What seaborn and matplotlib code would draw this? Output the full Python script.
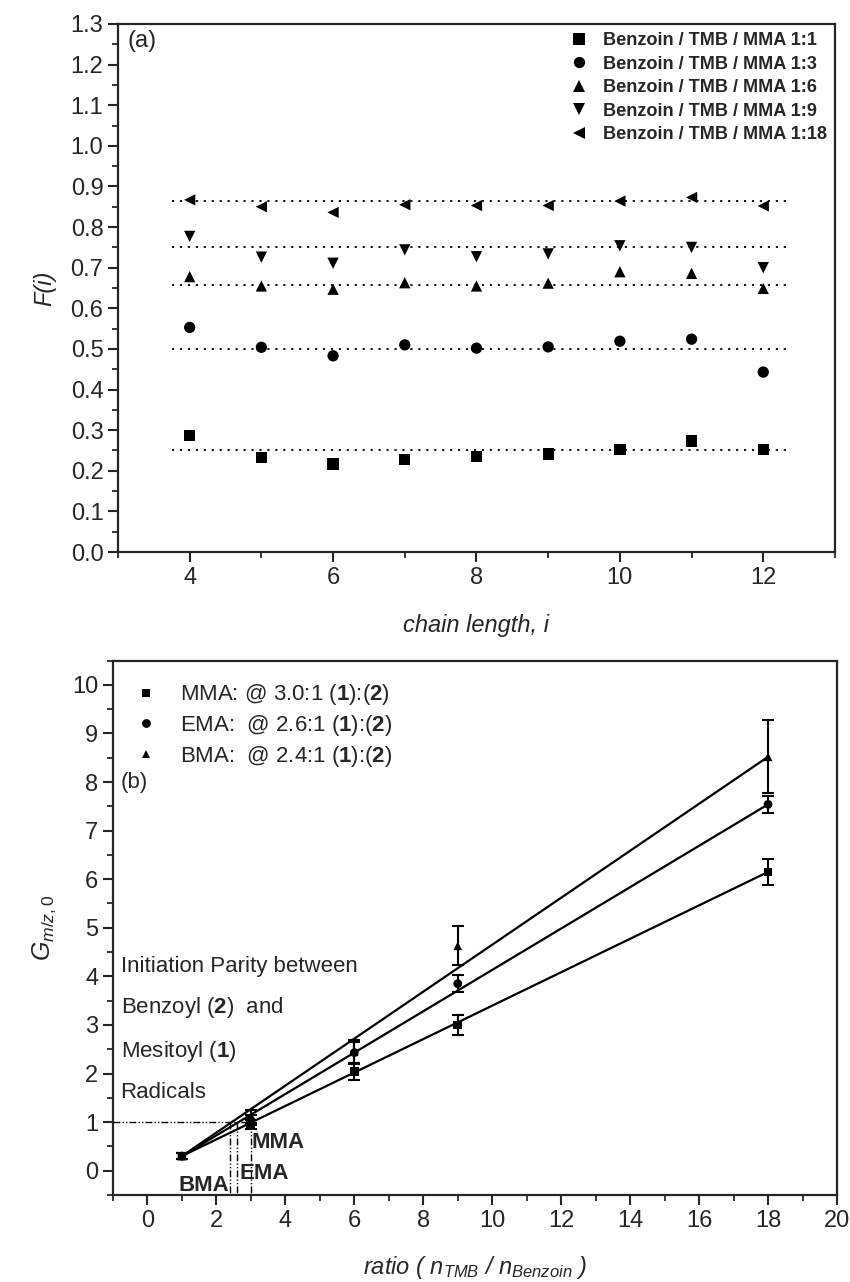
import numpy as np
import pandas as pd
import seaborn as sns
import matplotlib.pyplot as plt
from matplotlib.ticker import MultipleLocator, FormatStrFormatter

# ---- panel (a): F(i) vs chain length ----
chain_length = [4, 5, 6, 7, 8, 9, 10, 11, 12]
series_a = ["Benzoin / TMB / MMA 1:1", "Benzoin / TMB / MMA 1:3",
            "Benzoin / TMB / MMA 1:6", "Benzoin / TMB / MMA 1:9",
            "Benzoin / TMB / MMA 1:18"]
f_1_1 = [0.286, 0.232, 0.217, 0.228, 0.235, 0.241, 0.253, 0.273, 0.253]
f_1_3 = [0.553, 0.504, 0.483, 0.510, 0.502, 0.505, 0.519, 0.524, 0.443]
f_1_6 = [0.678, 0.655, 0.647, 0.663, 0.655, 0.662, 0.690, 0.686, 0.649]
f_1_9 = [0.777, 0.726, 0.711, 0.744, 0.727, 0.734, 0.754, 0.750, 0.700]
f_1_18 = [0.867, 0.850, 0.836, 0.855, 0.853, 0.853, 0.864, 0.873, 0.852]
f_levels = [0.252, 0.500, 0.658, 0.750, 0.864]
markers_a = ["s", "o", "^", "v", "<"]

# ---- panel (b): G vs ratio ----
ratio = [1, 3, 6, 9, 18]
g_mma = [0.30, 0.95, 2.04, 3.00, 6.15]
g_mma_err = [0.07, 0.10, 0.17, 0.21, 0.26]
g_ema = [0.30, 1.04, 2.43, 3.85, 7.54]
g_ema_err = [0.06, 0.10, 0.22, 0.18, 0.18]
g_bma = [0.30, 1.12, 2.45, 4.63, 8.52]
g_bma_err = [0.06, 0.13, 0.25, 0.40, 0.75]
series_b = ["MMA: @ 3.0:1 ($\\mathbf{1}$):($\\mathbf{2}$)",
            "EMA:  @ 2.6:1 ($\\mathbf{1}$):($\\mathbf{2}$)",
            "BMA:  @ 2.4:1 ($\\mathbf{1}$):($\\mathbf{2}$)"]
parity_names = ["MMA", "EMA", "BMA"]
parity_ratio = [3.0, 2.6, 2.4]
markers_b = ["s", "o", "^"]

sns.set_style("ticks")
plt.rcParams["font.family"] = ["Liberation Sans", "DejaVu Sans"]
plt.rcParams["mathtext.fontset"] = "custom"
plt.rcParams["mathtext.rm"] = "Liberation Sans"
plt.rcParams["mathtext.it"] = "Liberation Sans:italic"
plt.rcParams["mathtext.bf"] = "Liberation Sans:bold"
plt.rcParams["axes.linewidth"] = 1.6

fig = plt.figure(figsize=(8.5, 12.82), dpi=100)
ax1 = fig.add_axes([0.1388, 0.5694, 0.8435, 0.4119])
ax2 = fig.add_axes([0.1329, 0.0679, 0.8518, 0.4168])

# panel (a)
df_a = pd.DataFrame({
    "chain": chain_length * 5,
    "F": f_1_1 + f_1_3 + f_1_6 + f_1_9 + f_1_18,
    "series": np.repeat(series_a, len(chain_length)),
})
ax1.hlines(f_levels, 3.75, 12.35, colors="black", linestyles=(0, (1.2, 3.2)), lw=1.3)
sns.scatterplot(data=df_a, x="chain", y="F", hue="series", style="series",
                palette=["black"] * 5, markers=markers_a, s=66,
                linewidth=0, ax=ax1)
h, l = ax1.get_legend_handles_labels()
ax1.legend(h, l, loc="upper right", bbox_to_anchor=(1.0, 1.0), frameon=False,
           prop={"weight": "bold", "size": 13.1}, labelspacing=0.36,
           handletextpad=0.3, borderaxespad=0.25, borderpad=0.2)
ax1.set_xlim(3, 13)
ax1.set_ylim(0, 1.3)
ax1.xaxis.set_major_locator(MultipleLocator(2))
ax1.xaxis.set_minor_locator(MultipleLocator(1))
ax1.yaxis.set_major_locator(MultipleLocator(0.1))
ax1.yaxis.set_minor_locator(MultipleLocator(0.05))
ax1.yaxis.set_major_formatter(FormatStrFormatter("%.1f"))
ax1.set_xlabel("chain length, i", fontstyle="italic", fontsize=17, labelpad=18)
ax1.set_ylabel("F(i)", fontstyle="italic", fontsize=17, labelpad=10)
ax1.text(0.013, 0.988, "(a)", transform=ax1.transAxes, fontsize=17, va="top")

# panel (b)
df_b = pd.DataFrame({
    "ratio": ratio * 3,
    "G": g_mma + g_ema + g_bma,
    "series": np.repeat(series_b, len(ratio)),
})
for y, err in [(g_mma, g_mma_err), (g_ema, g_ema_err), (g_bma, g_bma_err)]:
    ax2.plot([ratio[0], ratio[-1]], [y[0], y[-1]], color="black", lw=1.6)
    ax2.errorbar(ratio, y, yerr=err, fmt="none", ecolor="black",
                 elinewidth=1.5, capsize=4.5, capthick=1.5)
sns.scatterplot(data=df_b, x="ratio", y="G", hue="series", style="series",
                palette=["black"] * 3, markers=markers_b, s=40,
                linewidth=0, ax=ax2, zorder=3)
h, l = ax2.get_legend_handles_labels()
ax2.legend(h, l, loc="upper left", bbox_to_anchor=(0.0, 0.98), frameon=False,
           fontsize=16, labelspacing=0.25, handletextpad=0.5,
           borderaxespad=0.3, borderpad=0.2, markerscale=1.0)

# parity guide lines
dash_dot = (0, (5, 1.5, 1, 1.5, 1, 1.5))
ax2.plot([-1, max(parity_ratio)], [1, 1], color="black", lw=1.0, linestyle=dash_dot)
for xr in parity_ratio:
    ax2.plot([xr, xr], [1, -0.5], color="black", lw=1.0, linestyle=dash_dot)
label_pos = {"MMA": (3.03, 0.58), "EMA": (2.66, -0.06), "BMA": (0.9, -0.31)}
for name in parity_names:
    ax2.text(*label_pos[name], name, fontsize=16, fontweight="bold", va="center")

for yy, txt in zip([4.2, 3.35, 2.45, 1.6],
                   ["Initiation Parity between",
                    "Benzoyl ($\\mathbf{2}$)  and",
                    "Mesitoyl ($\\mathbf{1}$)",
                    "Radicals"]):
    ax2.text(-0.78, yy, txt, fontsize=16, va="center")
ax2.text(-0.78, 8.0, "(b)", fontsize=16, va="center")

ax2.set_xlim(-1, 20)
ax2.set_ylim(-0.5, 10.5)
ax2.xaxis.set_major_locator(MultipleLocator(2))
ax2.xaxis.set_minor_locator(MultipleLocator(1))
ax2.yaxis.set_major_locator(MultipleLocator(1))
ax2.yaxis.set_minor_locator(MultipleLocator(0.5))
ax2.set_xlabel("ratio ( $n_{TMB}$ / $n_{Benzoin}$ )", fontstyle="italic",
               fontsize=17, labelpad=16)
ax2.set_ylabel("$G_{m/z,0}$", fontsize=18, labelpad=10)

for ax in (ax1, ax2):
    for s in ax.spines.values():
        s.set_visible(True)
        s.set_linewidth(1.6)
    ax.tick_params(which="major", direction="out", length=7, width=1.5,
                   labelsize=17, top=False, right=False)
    ax.tick_params(which="minor", direction="out", length=4, width=1.3,
                   top=False, right=False)

fig.savefig("out.png", dpi=100)
